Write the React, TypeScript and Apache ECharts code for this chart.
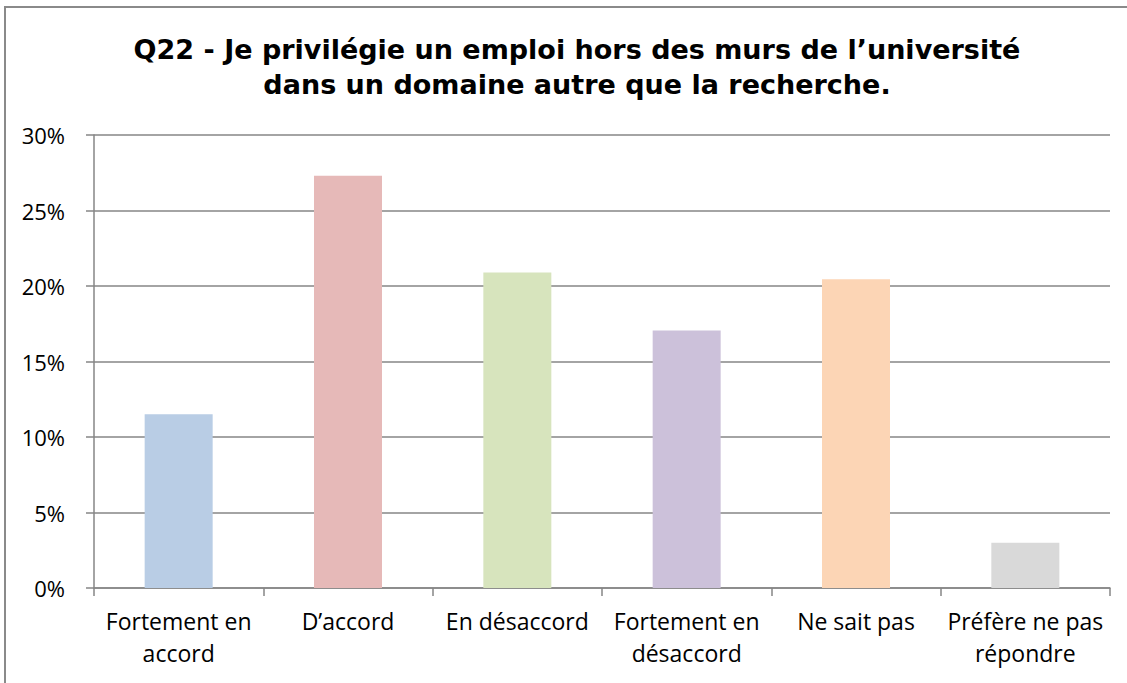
import React, { useEffect, useRef } from "react";
import * as echarts from "echarts";

const titleLines = [
  "Q22 - Je privilégie un emploi hors des murs de l’université",
  "dans un domaine autre que la recherche.",
];
const categories = [
  "Fortement en\naccord",
  "D’accord",
  "En désaccord",
  "Fortement en\ndésaccord",
  "Ne sait pas",
  "Préfère ne pas\nrépondre",
];
const values = [11.5, 27.3, 20.9, 17.05, 20.45, 3.0];
const colors = ["#B9CDE5", "#E6B9B8", "#D7E4BD", "#CCC1DA", "#FCD5B5", "#D9D9D9"];
const yTicks = [0, 5, 10, 15, 20, 25, 30];

const labelFont = "'Open Sans', 'Noto Sans', sans-serif";

export default function App() {
  const ref = useRef<HTMLDivElement>(null);
  useEffect(() => {
    const chart = echarts.init(ref.current!, null, { renderer: "svg" });
    chart.setOption({
      animation: false,
      backgroundColor: "#ffffff",
      title: {
        text: titleLines.join("\n"),
        left: 572,
        textAlign: "center",
        top: 27,
        textStyle: {
          fontFamily: "'DejaVu Sans', sans-serif",
          fontWeight: "bold",
          fontSize: 27,
          lineHeight: 35,
          color: "#000",
        },
      },
      graphic: [
        {
          type: "rect",
          shape: { x: 5, y: 7, width: 1140, height: 700 },
          style: { fill: "none", stroke: "#8a8a8a", lineWidth: 2 },
          silent: true,
        },
      ],
      grid: { left: 94, right: 17, top: 135, bottom: 95, containLabel: false },
      xAxis: {
        type: "category",
        data: categories,
        axisLine: { show: true, lineStyle: { color: "#868686", width: 1.5 } },
        axisTick: { show: true, length: 8, lineStyle: { color: "#868686", width: 1.5 } },
        axisLabel: {
          fontFamily: labelFont,
          fontSize: 23,
          lineHeight: 32,
          color: "#000",
          margin: 17,
          interval: 0,
        },
      },
      yAxis: {
        type: "value",
        min: 0,
        max: 30,
        interval: 5,
        axisLine: { show: true, lineStyle: { color: "#868686", width: 1.5 } },
        axisTick: { show: true, length: 8, lineStyle: { color: "#868686", width: 1.5 } },
        splitLine: { show: true, lineStyle: { color: "#868686", width: 1.5 } },
        axisLabel: {
          fontFamily: labelFont,
          fontSize: 22,
          color: "#000",
          margin: 29,
          formatter: (v: number) => (yTicks.includes(v) ? v + "%" : ""),
        },
      },
      series: [
        {
          type: "bar",
          data: values.map((v, i) => ({ value: v, itemStyle: { color: colors[i] } })),
          barWidth: 68,
        },
      ],
    });
    return () => chart.dispose();
  }, []);
  return (
    <div
      ref={ref}
      style={{ position: "fixed", left: 0, top: 0, width: 1127, height: 683 }}
    />
  );
}
